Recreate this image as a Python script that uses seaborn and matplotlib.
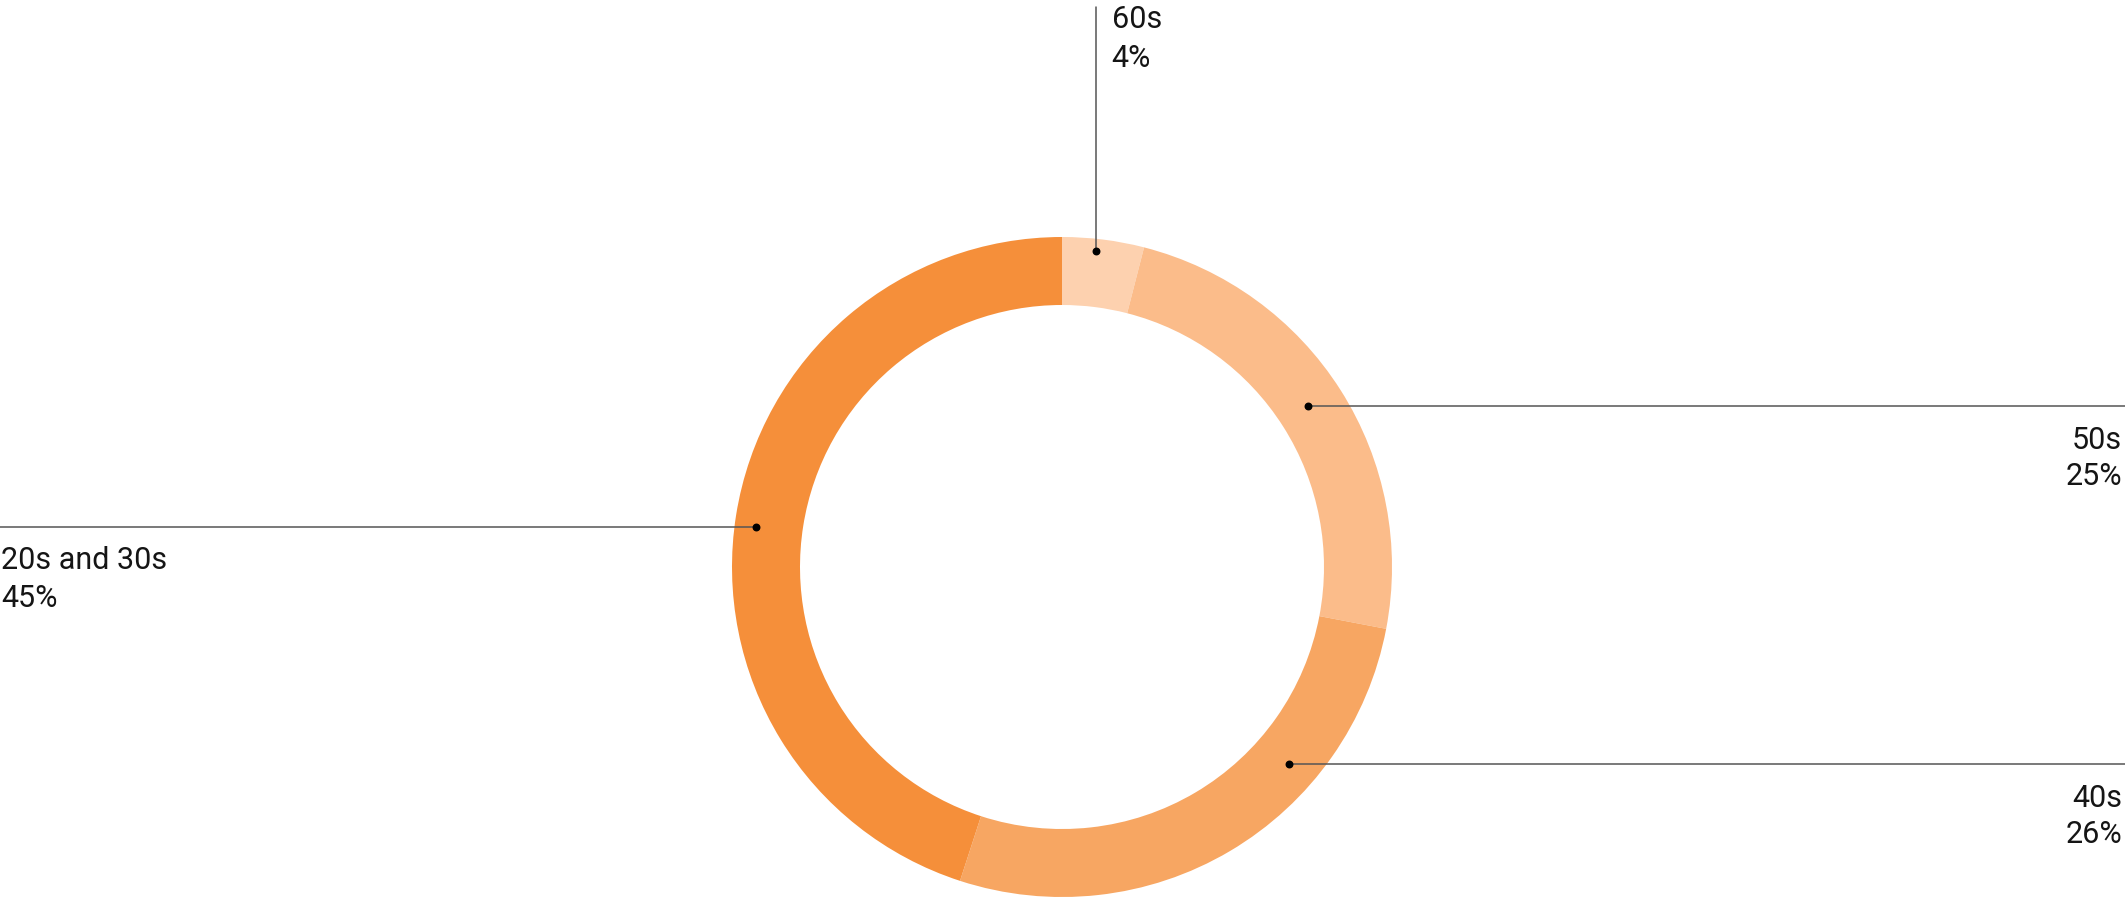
import numpy as np
import seaborn as sns
import matplotlib.pyplot as plt

sns.set_theme(style="white")
plt.rcParams['font.family'] = ['Roboto', 'DejaVu Sans']

# data, clockwise from 12 o'clock (ring sizes as drawn, labels as printed)
groups = ['60s', '50s', '40s', '20s and 30s']
shares = [4, 24, 27, 45]
share_labels = ['4%', '25%', '26%', '45%']
colors = ['#FDD1AF', '#FBBC8A', '#F7A662', '#F58F3A']

W, H = 2125, 909
CX, CY = 1062, H - 567
R_OUT, RING = 330, 68

fig = plt.figure(figsize=(W / 100, H / 100), dpi=100)
ax = fig.add_axes([0, 0, 1, 1])

wedges, _ = ax.pie(shares, colors=colors, startangle=90, counterclock=False,
                   radius=R_OUT, center=(CX, CY),
                   wedgeprops=dict(width=RING, linewidth=0))
ax.set_xlim(0, W)
ax.set_ylim(0, H)
ax.set_aspect('equal')
ax.axis('off')

# where along each wedge the leader dot sits, and how far out
anchor_frac = [0.42, 0.49, 0.31, 0.49]
anchor_r = [318, 294, 300, 309]

line_kw = dict(color='#555555', lw=1.1, zorder=3)
txt_kw = dict(fontsize=22, color='#151515')

for i, w in enumerate(wedges):
    t1, t2 = sorted([w.theta1, w.theta2])
    # counterclock=False -> wedge drawn from theta2 down to theta1
    ang = np.deg2rad(t2 - anchor_frac[i] * (t2 - t1))
    dx = CX + anchor_r[i] * np.cos(ang)
    dy = CY + anchor_r[i] * np.sin(ang)
    ax.scatter([dx], [dy], s=22, color='black', zorder=4)

    name = groups[i]
    if name == '60s':
        ax.plot([dx, dx], [dy, H - 7], **line_kw)
        ax.text(dx + 16, H - 28, name, ha='left', va='baseline', **txt_kw)
        ax.text(dx + 16, H - 67, share_labels[i], ha='left', va='baseline', **txt_kw)
    elif dx > CX:
        ax.plot([dx, W], [dy, dy], **line_kw)
        ax.text(W - 3, dy - 43, name, ha='right', va='baseline', **txt_kw)
        ax.text(W - 3, dy - 79, share_labels[i], ha='right', va='baseline', **txt_kw)
    else:
        ax.plot([0, dx], [dy, dy], **line_kw)
        ax.text(1, dy - 42, name, ha='left', va='baseline', **txt_kw)
        ax.text(1, dy - 80, share_labels[i], ha='left', va='baseline', **txt_kw)

fig.savefig('out.png', dpi=100)
plt.close(fig)
